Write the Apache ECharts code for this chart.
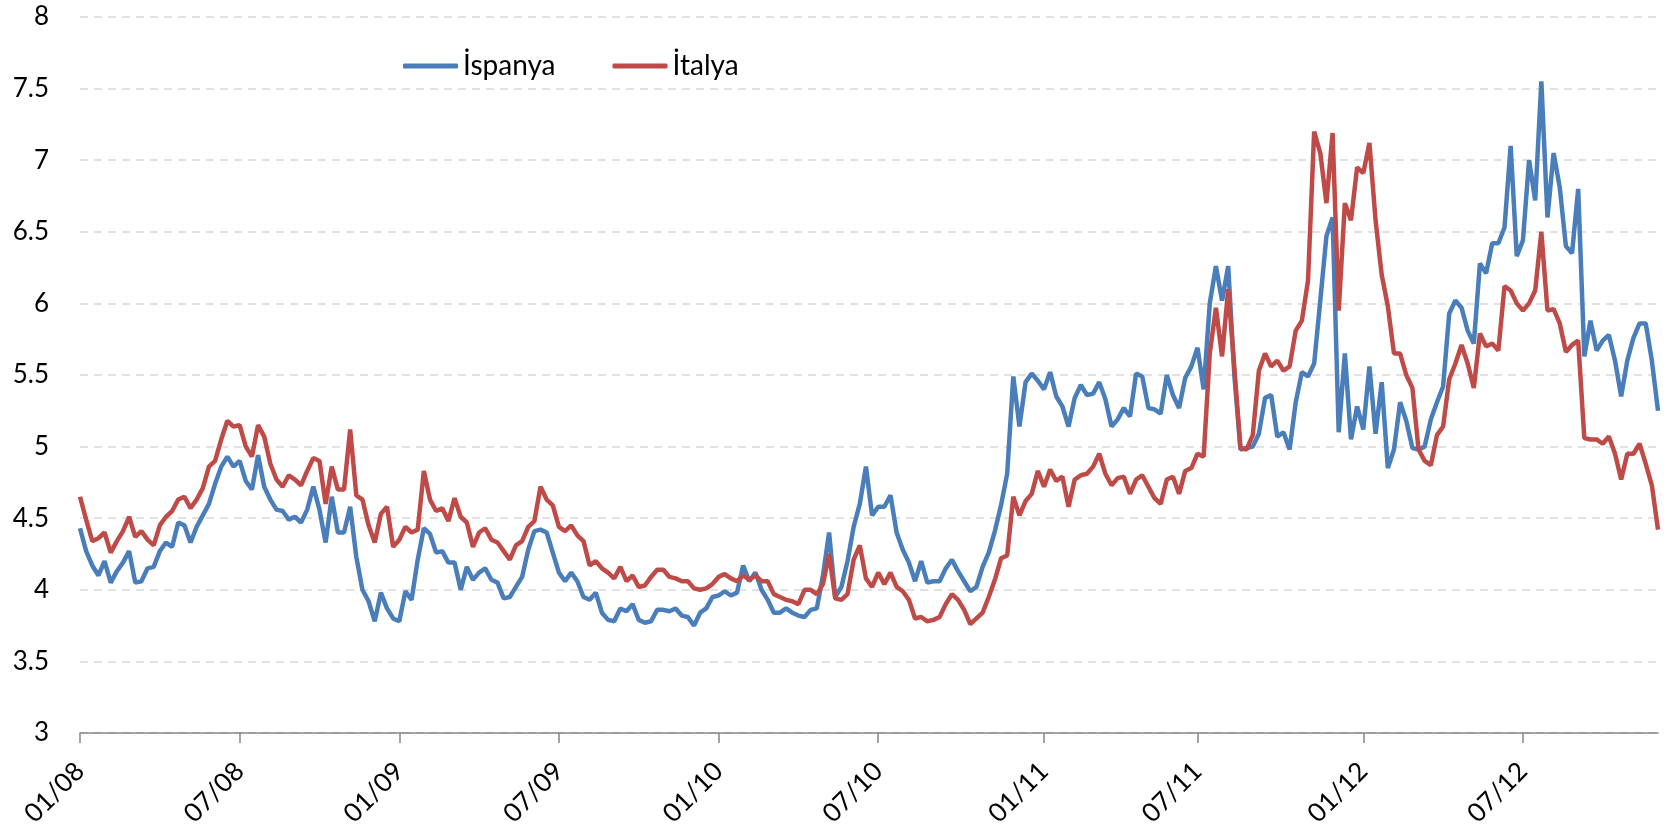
<!DOCTYPE html>
<html lang="tr">
<head>
    <meta charset="UTF-8">
    <title>İspanya - İtalya 10 yıllık faiz</title>
    <script type="text/javascript" src="https://cdn.jsdelivr.net/npm/echarts@6/dist/echarts.min.js"></script>
    <style>
        body{
            padding: 0px;
            margin: 0px;
            background-color: #ffffff;
        }
        #chart{
            width: 1667px;
            height: 832px;
        }
    </style>
</head>
<body>
    <div id="chart"></div>
    <script>
        // haftalik seriler, 2008-01-01'den itibaren
        var spain = [
            4.43, 4.27, 4.17, 4.10, 4.20, 4.05, 4.13, 4.19, 4.27, 4.05,
            4.06, 4.15, 4.16, 4.27, 4.33, 4.30, 4.47, 4.45, 4.33, 4.44,
            4.52, 4.60, 4.74, 4.86, 4.93, 4.86, 4.90, 4.76, 4.70, 4.94,
            4.72, 4.63, 4.56, 4.55, 4.49, 4.51, 4.47, 4.56, 4.72, 4.56,
            4.33, 4.65, 4.40, 4.40, 4.58, 4.23, 4.00, 3.92, 3.78, 3.98,
            3.87, 3.80, 3.78, 3.99, 3.93, 4.21, 4.43, 4.39, 4.26, 4.27,
            4.19, 4.19, 4.00, 4.16, 4.07, 4.12, 4.15, 4.07, 4.05, 3.94,
            3.95, 4.02, 4.09, 4.28, 4.41, 4.42, 4.40, 4.26, 4.12, 4.06,
            4.12, 4.06, 3.95, 3.93, 3.98, 3.84, 3.79, 3.78, 3.87, 3.85,
            3.90, 3.79, 3.77, 3.78, 3.86, 3.86, 3.85, 3.87, 3.82, 3.81,
            3.75, 3.84, 3.87, 3.95, 3.96, 3.99, 3.96, 3.98, 4.17, 4.06,
            4.12, 4.00, 3.93, 3.84, 3.84, 3.87, 3.84, 3.82, 3.81, 3.86,
            3.87, 4.10, 4.40, 3.95, 4.02, 4.20, 4.44, 4.60, 4.86, 4.52,
            4.58, 4.58, 4.66, 4.40, 4.28, 4.19, 4.06, 4.20, 4.05, 4.06,
            4.06, 4.15, 4.21, 4.13, 4.06, 3.99, 4.02, 4.16, 4.26, 4.41,
            4.59, 4.81, 5.49, 5.14, 5.45, 5.51, 5.46, 5.40, 5.52, 5.35,
            5.28, 5.14, 5.34, 5.43, 5.36, 5.37, 5.45, 5.33, 5.14, 5.19,
            5.27, 5.21, 5.51, 5.49, 5.27, 5.26, 5.23, 5.50, 5.36, 5.27,
            5.48, 5.56, 5.69, 5.40, 6.00, 6.26, 6.02, 6.26, 5.50, 4.98,
            4.99, 5.00, 5.09, 5.34, 5.36, 5.07, 5.10, 4.98, 5.31, 5.52,
            5.49, 5.58, 6.02, 6.47, 6.60, 5.10, 5.65, 5.05, 5.28, 5.12,
            5.56, 5.09, 5.45, 4.85, 4.98, 5.31, 5.18, 4.99, 4.98, 5.00,
            5.19, 5.31, 5.42, 5.93, 6.02, 5.97, 5.81, 5.72, 6.28, 6.21,
            6.42, 6.42, 6.53, 7.10, 6.33, 6.44, 7.00, 6.72, 7.55, 6.60,
            7.05, 6.81, 6.40, 6.35, 6.80, 5.63, 5.88, 5.67, 5.74, 5.78,
            5.60, 5.35, 5.60, 5.76, 5.86, 5.86, 5.60, 5.25
        ];
        var italy = [
            4.65, 4.49, 4.34, 4.36, 4.40, 4.26, 4.34, 4.41, 4.51, 4.37,
            4.41, 4.35, 4.31, 4.45, 4.51, 4.55, 4.63, 4.65, 4.57, 4.63,
            4.71, 4.86, 4.90, 5.05, 5.18, 5.14, 5.15, 5.00, 4.93, 5.15,
            5.07, 4.88, 4.77, 4.72, 4.80, 4.77, 4.73, 4.83, 4.92, 4.90,
            4.60, 4.86, 4.70, 4.70, 5.12, 4.66, 4.63, 4.45, 4.33, 4.53,
            4.58, 4.30, 4.35, 4.44, 4.40, 4.42, 4.83, 4.63, 4.55, 4.57,
            4.48, 4.64, 4.51, 4.47, 4.30, 4.40, 4.43, 4.35, 4.33, 4.27,
            4.21, 4.31, 4.34, 4.44, 4.48, 4.72, 4.63, 4.59, 4.44, 4.41,
            4.45, 4.38, 4.34, 4.17, 4.20, 4.15, 4.12, 4.08, 4.16, 4.06,
            4.10, 4.02, 4.03, 4.09, 4.14, 4.14, 4.09, 4.08, 4.06, 4.06,
            4.01, 4.00, 4.01, 4.04, 4.09, 4.11, 4.08, 4.06, 4.10, 4.07,
            4.10, 4.06, 4.06, 3.97, 3.95, 3.93, 3.92, 3.90, 4.00, 4.00,
            3.97, 4.04, 4.25, 3.94, 3.93, 3.97, 4.21, 4.31, 4.08, 4.02,
            4.12, 4.04, 4.12, 4.02, 3.99, 3.93, 3.80, 3.81, 3.78, 3.79,
            3.81, 3.90, 3.97, 3.93, 3.86, 3.76, 3.80, 3.84, 3.95, 4.07,
            4.22, 4.24, 4.65, 4.52, 4.62, 4.67, 4.83, 4.72, 4.84, 4.76,
            4.79, 4.58, 4.77, 4.80, 4.81, 4.86, 4.95, 4.81, 4.73, 4.78,
            4.79, 4.67, 4.77, 4.80, 4.72, 4.64, 4.60, 4.77, 4.79, 4.67,
            4.83, 4.85, 4.95, 4.93, 5.65, 5.97, 5.63, 6.10, 5.55, 4.99,
            4.98, 5.08, 5.53, 5.65, 5.56, 5.60, 5.53, 5.56, 5.81, 5.88,
            6.16, 7.20, 7.05, 6.70, 7.19, 5.95, 6.70, 6.58, 6.95, 6.91,
            7.12, 6.58, 6.20, 5.98, 5.65, 5.65, 5.50, 5.41, 4.98, 4.90,
            4.87, 5.08, 5.14, 5.47, 5.58, 5.71, 5.58, 5.41, 5.79, 5.70,
            5.72, 5.67, 6.12, 6.09, 6.00, 5.95, 6.00, 6.09, 6.50, 5.95,
            5.96, 5.86, 5.66, 5.71, 5.74, 5.06, 5.05, 5.05, 5.02, 5.07,
            4.95, 4.77, 4.95, 4.95, 5.02, 4.88, 4.73, 4.42
        ];
        var tickMonths = ['2008-01', '2008-07', '2009-01', '2009-07', '2010-01',
                          '2010-07', '2011-01', '2011-07', '2012-01', '2012-07'];
        var tickLabels = ['01/08', '07/08', '01/09', '07/09', '01/10',
                          '07/10', '01/11', '07/11', '01/12', '07/12'];

        var DAY = 86400000;
        var start = Date.UTC(2008, 0, 1);
        var dates = spain.map(function (v, i) {
            return new Date(start + i * 7 * DAY).toISOString().slice(0, 10);
        });
        // etiket hangi haftaya denk geliyor
        var labelAt = {};
        tickMonths.forEach(function (m, k) {
            var days = (Date.parse(m + '-01T00:00:00Z') - start) / DAY;
            labelAt[Math.round(days / 7)] = tickLabels[k];
        });
        function hasLabel(i) {
            return labelAt.hasOwnProperty(i);
        }

        var font = 'Lato, "Open Sans", sans-serif';
        var chart = echarts.init(document.getElementById('chart'), null, {renderer: 'canvas'});
        chart.setOption({
            animation: false,
            legend: {
                left: 398,
                top: 47,
                itemWidth: 55,
                itemHeight: 5,
                itemGap: 57,
                icon: 'roundRect',
                textStyle: {fontSize: 28, color: '#000', fontFamily: font},
                data: ['İspanya', 'İtalya']
            },
            grid: {left: 80, right: 9, top: 17, bottom: 99},
            xAxis: {
                type: 'category',
                data: dates,
                boundaryGap: false,
                axisLine: {lineStyle: {color: '#868686', width: 1.5}},
                axisTick: {interval: hasLabel, length: 10, lineStyle: {color: '#868686', width: 1.5}},
                axisLabel: {
                    interval: hasLabel,
                    formatter: function (v, i) { return labelAt[i]; },
                    rotate: 45,
                    margin: 34,
                    fontSize: 26,
                    color: '#000',
                    fontFamily: font
                },
                splitLine: {show: false}
            },
            yAxis: {
                type: 'value',
                min: 3,
                max: 8,
                interval: 0.5,
                axisLine: {show: false},
                axisTick: {show: false},
                axisLabel: {fontSize: 26, color: '#000', margin: 31, fontFamily: font},
                splitLine: {lineStyle: {color: '#d9d9d9', type: [8, 6], width: 1.5}}
            },
            series: [
                {
                    name: 'İspanya',
                    type: 'line',
                    data: spain,
                    showSymbol: false,
                    itemStyle: {color: '#4a7ebb'},
                    lineStyle: {color: '#4a7ebb', width: 4.5}
                },
                {
                    name: 'İtalya',
                    type: 'line',
                    data: italy,
                    showSymbol: false,
                    itemStyle: {color: '#be4b48'},
                    lineStyle: {color: '#be4b48', width: 4.5}
                }
            ]
        });
    </script>
</body>
</html>
